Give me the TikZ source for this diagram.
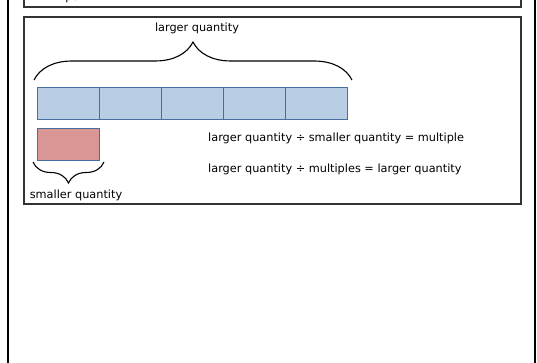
\documentclass[tikz,border=0pt]{standalone}
\usepackage{fontspec}
\setmainfont{DejaVu Sans}
\usetikzlibrary{positioning, decorations.pathreplacing}

\definecolor{barblue}{RGB}{185,205,228}
\definecolor{barred}{RGB}{217,150,148}
\definecolor{baredge}{RGB}{70,110,160}

\tikzset{
  cell/.style={draw=baredge, line width=0.9pt, fill=barblue, minimum width=62pt, minimum height=32pt, inner sep=0pt, outer sep=0pt},
  smallcell/.style={cell, fill=barred},
  panel/.style={draw=black!80, line width=1.4pt},
  curly/.style={decorate, decoration={brace, amplitude=#1}, line width=1.1pt},
  lbl/.style={font=\fontsize{11.3}{13}\selectfont, inner sep=0pt}
}

\begin{document}
\begin{tikzpicture}[x=1pt, y=-1pt]
				\useasboundingbox (0,0) rectangle (537,363);
				
				% outer frame
				\draw[line width=2pt] (7.5,0) -- (7.5,363);
				\draw[line width=2pt] (534.5,0) -- (534.5,363);
				
				% top panel (cut off)
				\begin{scope}
				\clip (0,0) rectangle (537,363);
				\node[lbl] (parttext) at (77,-2) {part};
				\draw[panel] (24,-5) -- (24,7) -- (521,7) -- (521,-5);
				\end{scope}
				
				% main panel
				\draw[panel] (24,17) rectangle (521,204);
				
				% the bar of five parts
				\node[cell] (c1) at (68,103) {};
				\node[cell, right=0pt of c1] (c2) {};
				\node[cell, right=0pt of c2] (c3) {};
				\node[cell, right=0pt of c3] (c4) {};
				\node[cell, right=0pt of c4] (c5) {};
				
				% the smaller part
				\node[smallcell, below=9pt of c1] (small) {};
				
				% braces
				\coordinate (topL) at (34,80);
				\coordinate (topR) at (352,80);
				\draw[curly=38pt] (topL) -- (topR);
				\node[lbl] (larger) at (197,28) {larger quantity};
				
				\coordinate (botL) at (33,162);
				\coordinate (botR) at (104,162);
				\draw[curly=21pt] (botR) -- (botL);
				\node[lbl] (smaller) at (76,195) {smaller quantity};
				
				% relations
				\node[lbl, anchor=west] (eqone) at (208,138) {larger quantity ÷ smaller quantity = multiple};
				\node[lbl, anchor=west] (eqtwo) at (208,169) {larger quantity ÷ multiples = larger quantity};
			\end{tikzpicture}
\end{document}
